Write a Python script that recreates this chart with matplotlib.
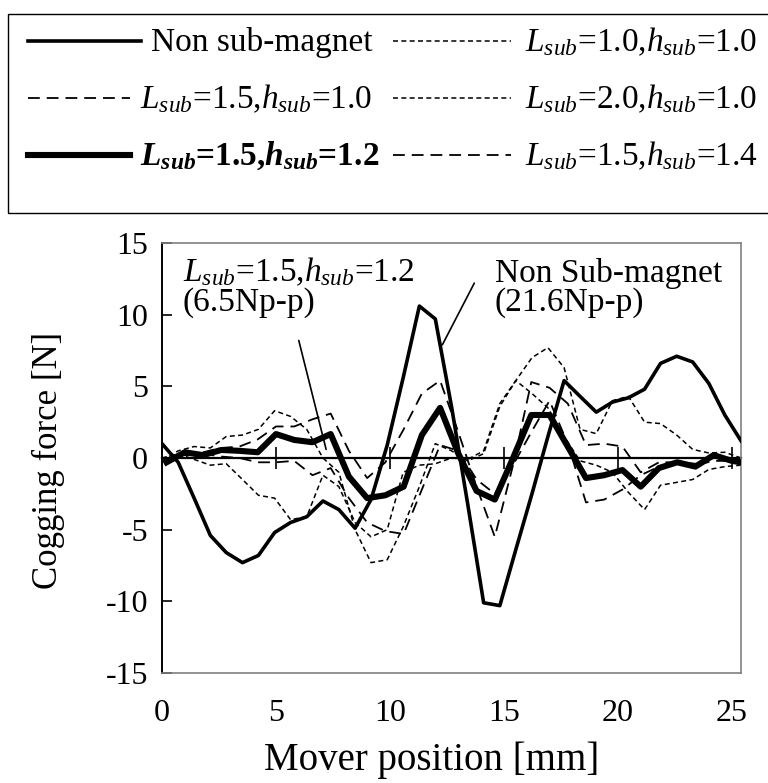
import numpy as np
import matplotlib
matplotlib.use("Agg")
import matplotlib.pyplot as plt
from matplotlib.patches import Rectangle

plt.rcParams["font.family"] = ["Liberation Serif", "DejaVu Serif"]
plt.rcParams["mathtext.fontset"] = "custom"
plt.rcParams["mathtext.rm"] = "Liberation Serif"
plt.rcParams["mathtext.it"] = "Liberation Serif:italic"
plt.rcParams["mathtext.bf"] = "Liberation Serif:bold"
plt.rcParams["mathtext.bfit"] = "Liberation Serif:italic:bold"
plt.rcParams["axes.unicode_minus"] = False
plt.rcParams["lines.scale_dashes"] = False

# mover position [mm] for the non sub-magnet, L_sub=1.0 and L_sub=2.0 runs
pos = [0.00, 0.71, 1.41, 2.12, 2.82, 3.53, 4.23, 4.94, 5.64, 6.35, 7.06, 7.76,
       8.47, 9.17, 9.88, 10.58, 11.29, 11.99, 12.70, 13.41, 14.11, 14.82, 15.52,
       16.23, 16.93, 17.64, 18.34, 19.05, 19.76, 20.46, 21.17, 21.87, 22.58,
       23.28, 23.99, 24.69, 25.40]

non_sub = [1.0, -0.3, -2.8, -5.4, -6.6, -7.3, -6.8, -5.2, -4.5, -4.1, -3.0, -3.6,
           -4.9, -2.9, 0.9, 5.6, 10.6, 9.7, 3.6, -3.2, -10.1, -10.3, -6.4, -2.5,
           1.5, 5.4, 4.3, 3.2, 3.9, 4.2, 4.8, 6.6, 7.1, 6.7, 5.2, 3.0, 1.2]

l10_h10 = [-0.2, 0.5, 0.8, 0.7, 1.5, 1.6, 2.0, 3.3, 2.9, 2.0, 0.0, -1.0,
           -5.0, -7.3, -7.1, -4.8, -2.0, 1.0, 0.5, -0.2, 0.3, 3.6, 5.4,
           7.0, 7.7, 6.3, 2.0, 1.7, 4.0, 4.3, 2.5, 2.4, 1.6, 0.6, 0.35, 0.4, 0.0]

l20_h10 = [0.0, 0.3, -0.1, -0.5, -0.4, -1.5, -2.6, -2.8, -4.3, -4.1, -1.2, -2.0,
           -4.5, -5.5, -5.0, -1.0, -0.5, -0.4, 0.0, -0.1, 0.5, 3.8, 5.4,
           4.5, 3.5, 1.5, -0.2, -0.5, -1.0, -2.4, -3.6, -1.9, -1.7, -1.5, -0.8, -0.6, -0.5]

# mover position [mm] for the L_sub=1.5 runs
pos_l15 = [0.2, 1.0, 1.8, 2.6, 3.4, 4.2, 5.0, 5.8, 6.6, 7.4, 8.2, 9.0, 9.8,
           10.6, 11.4, 12.2, 13.0, 13.8, 14.6, 15.4, 16.2, 17.0, 17.8, 18.6,
           19.4, 20.2, 21.0, 21.8, 22.6, 23.4, 24.2, 25.0, 25.8]

l15_h10 = [-0.1, 0.4, 0.4, 0.7, 0.8, 1.3, 2.2, 2.2, 2.7, 3.1, 0.5, -1.4, -0.3,
           2.0, 4.5, 5.4, 1.8, -2.0, -5.5, -0.5, 5.3, 4.9, 3.8, 0.9,
           1.0, 0.8, -1.0, -0.3, -0.3, -0.4, 0.0, -0.1, -0.3]

l15_h12 = [-0.3, 0.4, 0.2, 0.56, 0.5, 0.4, 1.67, 1.26, 1.1, 1.67, -1.3, -2.8, -2.6,
           -2.0, 1.6, 3.5, 0.3, -2.3, -2.9, 0.0, 3.0, 3.0, 0.8, -1.4,
           -1.2, -0.84, -2.0, -0.7, -0.3, -0.6, 0.2, -0.2, -0.4]

l15_h14 = [-0.3, 0.2, 0.3, 0.1, 0.0, -0.3, -0.3, -0.2, -1.2, -0.7, -2.8, -4.5, -5.1,
           -5.3, -2.2, 0.9, 0.5, -1.5, -2.5, -0.5, 1.8, 4.0, 1.0, -3.1,
           -2.9, -2.2, -1.2, -0.6, -0.4, -0.5, -0.2, -0.2, -0.2]

short_dash = (0, (3.6, 2.4))
long_dash = (0, (8.5, 5.0))
styles = {
    "non": dict(color="black", lw=2.6, ls="-"),
    "l10": dict(color="black", lw=1.1, ls=short_dash),
    "l15": dict(color="black", lw=1.3, ls=long_dash),
    "l20": dict(color="black", lw=1.1, ls=short_dash),
    "best": dict(color="black", lw=4.4, ls="-"),
    "l14": dict(color="black", lw=1.3, ls=long_dash),
}

fig = plt.figure(figsize=(7.68, 7.83), dpi=100)
ax = fig.add_axes([162 / 768, 110 / 783, 579 / 768, 430 / 783])

ax.plot(pos, l10_h10, **styles["l10"], zorder=2)
ax.plot(pos, l20_h10, **styles["l20"], zorder=2)
ax.plot(pos_l15, l15_h10, **styles["l15"], zorder=2)
ax.plot(pos_l15, l15_h14, **styles["l14"], zorder=2)
ax.plot(pos, non_sub, **styles["non"], zorder=3)
ax.plot(pos_l15, l15_h12, **styles["best"], zorder=4)

ax.set_xlim(0, 25.4)
ax.set_ylim(-15, 15)
xt = [0, 5, 10, 15, 20, 25]
ax.set_xticks(xt)
ax.set_yticks([-15, -10, -5, 0, 5, 10, 15])
ax.tick_params(axis="y", direction="in", length=7, width=1.2, pad=10, labelsize=23)
ax.tick_params(axis="x", length=0, pad=19, labelsize=23)
for s in ["top", "right", "bottom"]:
    ax.spines[s].set_color("#808080")
    ax.spines[s].set_linewidth(1.2)
ax.spines["left"].set_linewidth(1.4)

# x axis crossing at zero
zero_axis = ax.secondary_xaxis(0.5)
zero_axis.set_xticks(xt)
zero_axis.tick_params(direction="inout", length=16, width=1.2, labeltop=False, labelbottom=False)
for s in zero_axis.spines.values():
    s.set_linewidth(1.6)

ax.set_xlabel("Mover position [mm]", fontsize=28)
ax.xaxis.set_label_coords(0.466, -87 / 430)
ax.xaxis.label.set_va("center")
ax.set_ylabel("Cogging force [N]", fontsize=25)
ax.yaxis.set_label_coords(-114 / 579, 0.495)
ax.yaxis.label.set_va("center")

ax.text(0.9, 12.3, r"$L_{sub}$=1.5,$h_{sub}$=1.2", fontsize=24, va="baseline")
ax.text(0.9, 10.3, "(6.5Np-p)", fontsize=24, va="baseline")
ax.annotate("", xy=(7.2, 0.6), xytext=(6.0, 8.2),
            arrowprops=dict(arrowstyle="-", color="black", lw=1.2, shrinkA=0, shrinkB=0))
ax.text(14.6, 12.3, "Non Sub-magnet", fontsize=24, va="baseline")
ax.text(14.6, 10.3, "(21.6Np-p)", fontsize=24, va="baseline")
ax.annotate("", xy=(12.3, 7.9), xytext=(13.7, 12.2),
            arrowprops=dict(arrowstyle="-", color="black", lw=1.2, shrinkA=0, shrinkB=0))

# legend box drawn in figure pixels
labels = ["Non sub-magnet",
          r"$L_{sub}$=1.5,$h_{sub}$=1.0",
          r"$\mathbfit{L}_{\mathbfit{sub}}$=1.5,$\mathbfit{h}_{\mathbfit{sub}}$=1.2",
          r"$L_{sub}$=1.0,$h_{sub}$=1.0",
          r"$L_{sub}$=2.0,$h_{sub}$=1.0",
          r"$L_{sub}$=1.5,$h_{sub}$=1.4"]
keys = ["non", "l15", "best", "l10", "l20", "l14"]
row_y = [41, 98, 155, 41, 98, 155]
line_x = [(28, 141), (28, 130), (28, 130), (393, 511), (393, 511), (393, 511)]
text_x = [151, 140, 140, 525, 525, 525]

lg = fig.add_axes([0, 0, 1, 1], facecolor="none")
lg.set_xlim(0, 768)
lg.set_ylim(783, 0)
lg.axis("off")
lg.add_patch(Rectangle((8, 14), 764, 199, fill=False, ec="black", lw=1.0))
for k, lab, y, lx, tx in zip(keys, labels, row_y, line_x, text_x):
    lg.plot(lx, [y, y], **styles[k])
    lg.text(tx, y + 10, lab, fontsize=24, va="baseline", ha="left",
            fontweight="bold" if k == "best" else "normal")

fig.savefig("out.png", dpi=100)
